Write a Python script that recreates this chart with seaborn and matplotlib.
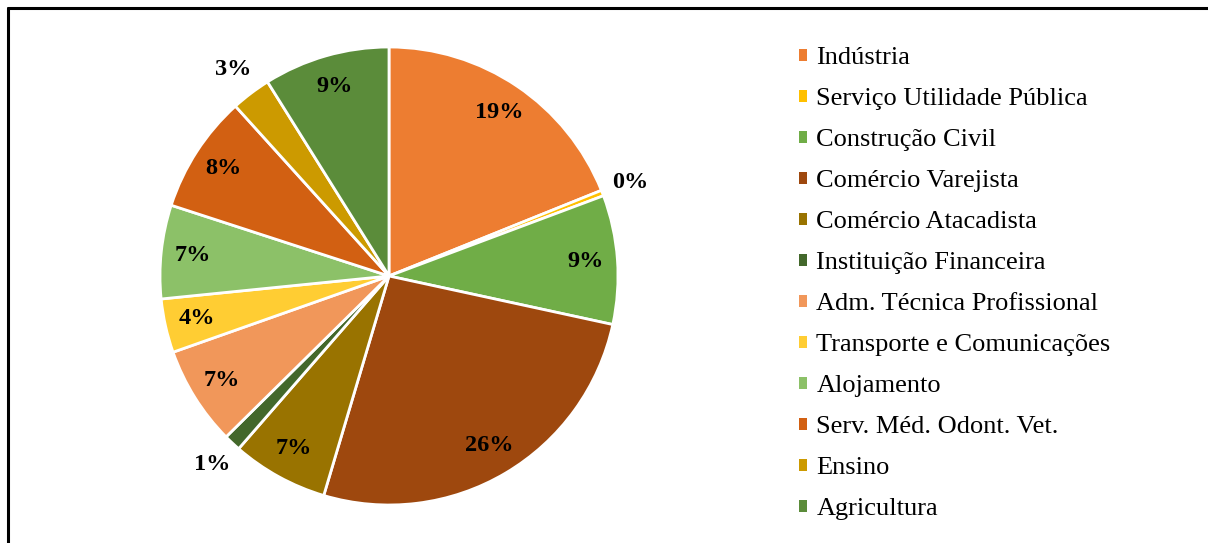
import matplotlib
matplotlib.use('Agg')
from matplotlib import pyplot as plt
from matplotlib.lines import Line2D
from matplotlib.patches import Patch
import numpy as np
import seaborn as sns

sectors = ['Indústria', 'Serviço Utilidade Pública', 'Construção Civil',
           'Comércio Varejista', 'Comércio Atacadista',
           'Instituição Financeira', 'Adm. Técnica Profissional',
           'Transporte e Comunicações', 'Alojamento',
           'Serv. Méd. Odont. Vet.', 'Ensino', 'Agricultura']
shares = [18.9, 0.4, 9.1, 26.2, 6.8, 1.2, 7.0, 3.8, 6.6, 8.3, 2.8, 8.9]
colors = ['#ED7D31', '#FFC000', '#70AD47', '#9E480E', '#997300', '#43682B',
          '#F1975A', '#FFCD33', '#8CC168', '#D26012', '#CC9A00', '#5B8C3A']

sns.set_theme(style='white')
plt.rcParams['font.family'] = ['Liberation Serif', 'DejaVu Serif']
plt.rcParams['text.color'] = 'black'

fig = plt.figure(figsize=(12.08, 5.43), dpi=100)
W, H = 1208, 543
# pie: centre ~ (389, 276) px, radius ~229 px
cx, cy, r = 389, 276, 229
ax = fig.add_axes([(cx - r) / W, (H - cy - r) / H, 2 * r / W, 2 * r / H])

wedges, texts, autotexts = ax.pie(
    shares, colors=colors, startangle=90, counterclock=False,
    autopct='%.0f%%', pctdistance=0.86, radius=1,
    wedgeprops=dict(edgecolor='white', linewidth=2),
    textprops=dict(fontsize=17.5, fontweight='bold', color='black'))
ax.set_xlim(-1, 1)
ax.set_ylim(-1, 1)
ax.set_aspect('auto')

# small slices get their label outside the pie
for w, t, v in zip(wedges, autotexts, shares):
    if v < 3:
        ang = np.deg2rad((w.theta1 + w.theta2) / 2)
        t.set_position((1.13 * np.cos(ang), 1.13 * np.sin(ang)))

handles = [Patch(facecolor=c, edgecolor='none') for c in colors]
leg = fig.legend(handles, sectors, loc='upper left',
                 bbox_to_anchor=(786 / W, 1 - 34 / H), frameon=False,
                 fontsize=19, handlelength=0.3, handleheight=0.3,
                 handletextpad=0.35, labelspacing=0.72, borderpad=0)
for t in leg.get_texts():
    t.set_color('black')

# chart frame (only top and left edges visible)
fig.add_artist(Line2D([8 / W, 8 / W], [0, 1 - 8 / H], color='black',
                      linewidth=2.2, transform=fig.transFigure))
fig.add_artist(Line2D([8 / W, 1], [1 - 8 / H, 1 - 8 / H], color='black',
                      linewidth=2.2, transform=fig.transFigure))

fig.savefig('out.png', dpi=100)
plt.close(fig)
